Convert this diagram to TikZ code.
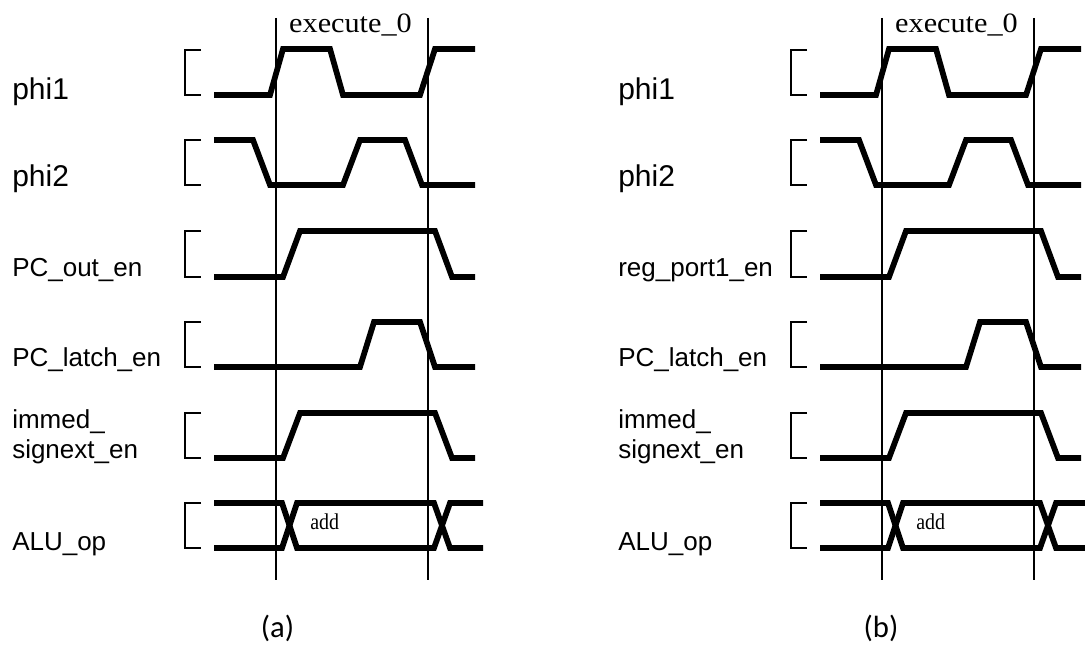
\documentclass[tikz,border=0pt]{standalone}
\usepackage{fontspec}
\newfontfamily\arialf{Liberation Sans}
\newfontfamily\tnrf{Liberation Serif}
\newfontfamily\calibf{Carlito}
\tikzset{
  sig/.style={line width=4.3pt, line join=miter},
  brk/.style={line width=1.3pt},
  vline/.style={line width=1.8pt},
  lbl/.style={font=\arialf\fontsize{19.5}{22}\selectfont, anchor=base west, inner sep=0pt},
  biglbl/.style={font=\arialf\fontsize{22.5}{26}\selectfont, anchor=base west, inner sep=0pt},
  stage/.style={font=\tnrf\fontsize{21}{24}\selectfont, anchor=base, inner sep=0pt},
  val/.style={font=\tnrf\fontsize{17}{20}\selectfont, anchor=base west, inner sep=0pt},
  captxt/.style={font=\calibf\fontsize{23}{26}\selectfont, anchor=base, inner sep=0pt}
}
\newcommand\timingpanel[3]{%
\begin{scope}[shift={(#1,0)}]
  % labels
  \node[biglbl] (#3phi1) at (12,100) {phi1};
  \node[biglbl] (#3phi2) at (12,187) {phi2};
  \node[lbl] (#3out) at (12,277) {#2};
  \node[lbl] (#3latch) at (12,367) {PC\_latch\_en};
  \node[lbl] (#3imma) at (12,428) {immed\_};
  \node[lbl] (#3immb) at (12,458) {signext\_en};
  \node[lbl] (#3alu) at (12,550) {ALU\_op};
  % brackets
  \foreach \t/\b in {50/95,140/185,231/277,322/367,413/458,503/548}
    \draw[brk] (201,\t)--(185,\t)--(185,\b)--(201,\b);
  % signals
  \draw[sig] (214,95)--(270,95)--(283,49)--(330,49)--(343,95)--(420,95)--(435,49)--(475,49);
  \draw[sig] (214,140)--(253,140)--(270,185)--(343,185)--(360,140)--(405,140)--(422,185)--(475,185);
  \draw[sig] (214,277)--(283,277)--(300,231)--(435,231)--(452,277)--(475,277);
  \draw[sig] (214,367)--(360,367)--(374,322)--(420,322)--(435,367)--(475,367);
  \draw[sig] (214,458)--(283,458)--(300,413)--(435,413)--(452,458)--(475,458);
  \draw[sig] (214,503)--(282,503)--(297,548)--(434,548)--(450,503)--(483,503);
  \draw[sig] (214,548)--(282,548)--(297,503)--(434,503)--(450,548)--(483,548);
  % stage boundaries
  \coordinate (#3v1t) at (276,18); \coordinate (#3v1b) at (276,580);
  \coordinate (#3v2t) at (428,18); \coordinate (#3v2b) at (428,580);
  \draw[vline] (#3v1t)--(#3v1b);
  \draw[vline] (#3v2t)--(#3v2b);
  \node[stage] (#3exe) at (350.5,33) {\scalebox{1.08}[1]{execute\_0}};
  \node[val] (#3add) at (310,529) {\scalebox{0.88}[1]{add}};
\end{scope}}
\begin{document}
\begin{tikzpicture}[x=0.75pt,y=-0.75pt]
\useasboundingbox (0,0) rectangle (1085,648);
\timingpanel{0}{PC\_out\_en}{a}
\timingpanel{606}{reg\_port1\_en}{b}
\node[captxt] (capa) at (277.5,637) {(a)};
\node[captxt] (capb) at (881,637) {(b)};
\end{tikzpicture}
\end{document}
